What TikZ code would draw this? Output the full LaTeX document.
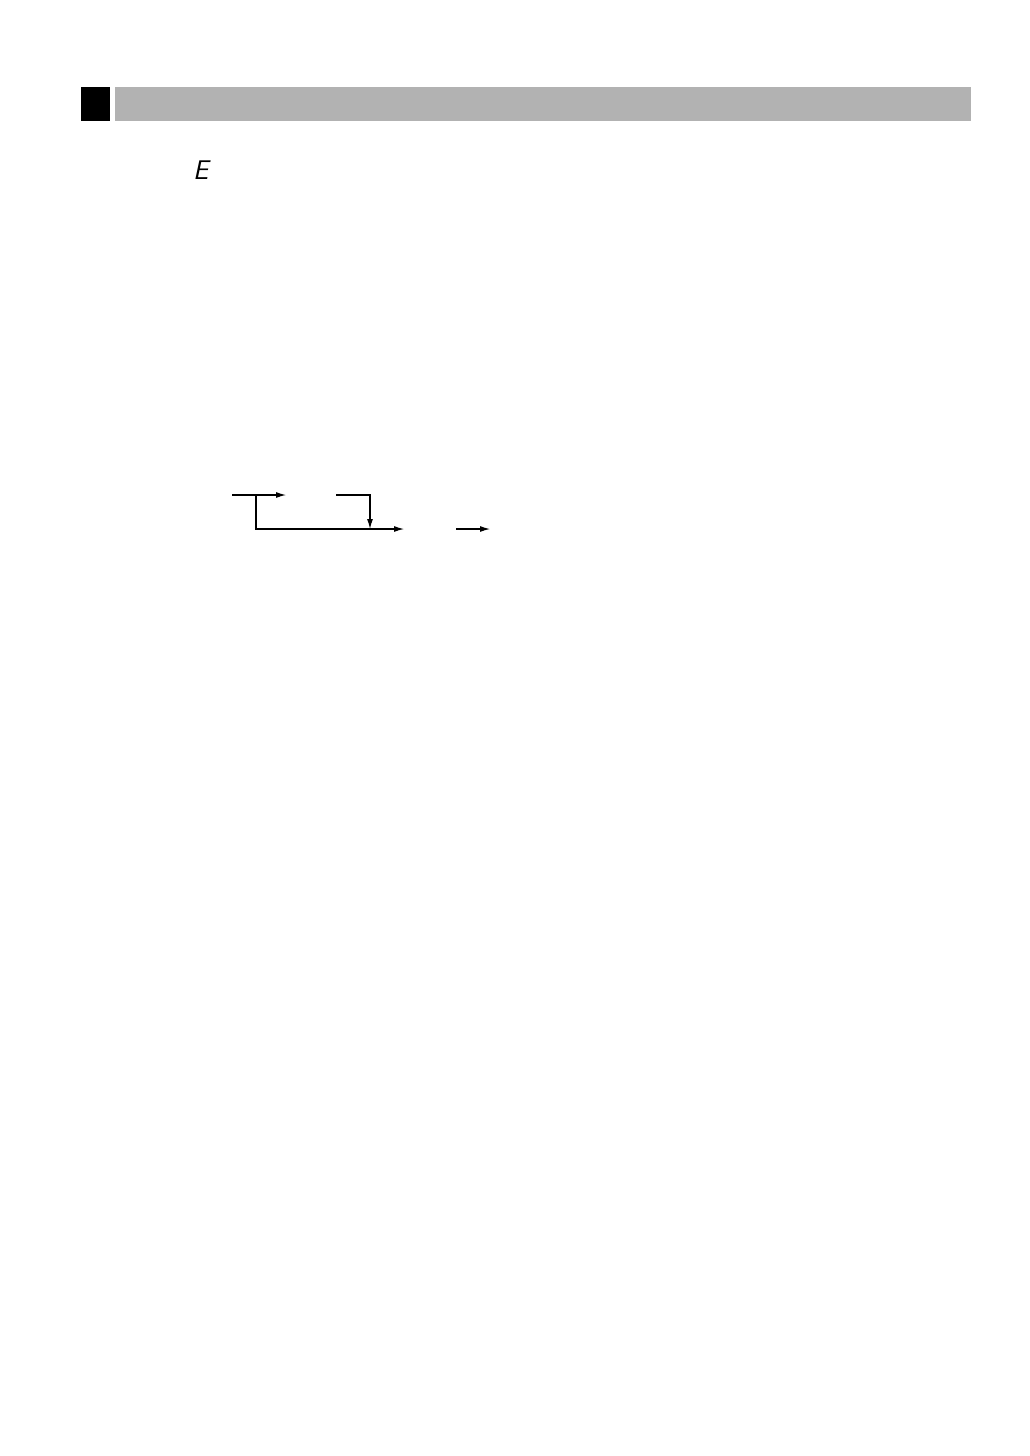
\documentclass[tikz,border=0pt]{standalone}
\usetikzlibrary{arrows.meta}
\definecolor{bargray}{RGB}{178,178,178}
\tikzset{
  flow/.style={line width=1.1pt, -{Latex[length=10pt,width=6pt]}},
  plain/.style={line width=1.1pt},
  segE/.style={font=\fontsize{27}{30}\sffamily\slshape, inner sep=0pt, anchor=south west}
}
\begin{document}
\begin{tikzpicture}[x=1pt,y=-1pt]
\useasboundingbox (0,0) rectangle (1030,1456);
% header
\fill[black] (81,87) rectangle (110,121);
\fill[bargray] (115,87) rectangle (971,121);
% E symbol
\node[segE] (e) at (193,180) {E};
% flow arrows
\coordinate (a0) at (232,495);
\coordinate (a1) at (286,495);
\coordinate (br) at (256,495);
\coordinate (b1) at (256,529);
\coordinate (b2) at (404,529);
\coordinate (c0) at (336,495);
\coordinate (c1) at (370,495);
\coordinate (c2) at (370,529);
\coordinate (d0) at (456,529);
\coordinate (d1) at (490,529);
\draw[flow] (a0) -- (a1);
\draw[flow] (br) -- (b1) -- (b2);
\draw[flow] (c0) -- (c1) -- (c2);
\draw[flow] (d0) -- (d1);
\end{tikzpicture}
\end{document}
